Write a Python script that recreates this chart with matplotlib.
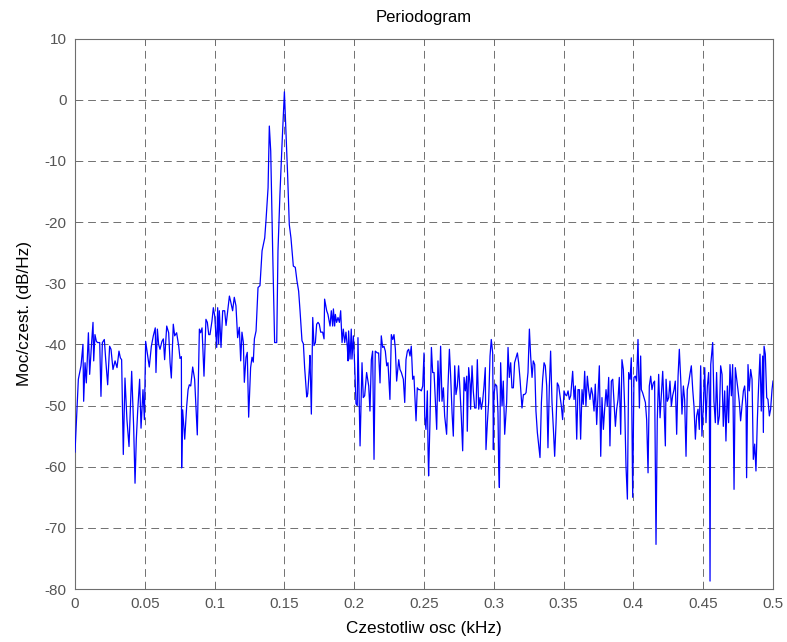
import numpy as np
import matplotlib
matplotlib.use("Agg")
import matplotlib.pyplot as plt

plt.rcParams['font.family'] = ['Liberation Sans', 'DejaVu Sans']
plt.rcParams['axes.unicode_minus'] = False

# ---- data (frequency in kHz, power in dB/Hz) ----
f1 = [0.0, 0.0024, 0.0043, 0.0057, 0.0062, 0.0072, 0.0081, 0.0096, 0.0105, 0.0119,
      0.0129, 0.0134, 0.0143, 0.0153, 0.0162, 0.0177, 0.0186, 0.0196, 0.0210, 0.0220,
      0.0234, 0.0248, 0.0258, 0.0272, 0.0287, 0.0301, 0.0315, 0.0325, 0.0334, 0.0346,
      0.0358, 0.0372, 0.0387, 0.0406, 0.0420, 0.0430, 0.0439, 0.0449, 0.0463, 0.0473,
      0.0487, 0.0497, 0.0506]
p1 = [-57.6, -45.7, -43.5, -40.0, -49.3, -43.0, -46.3, -38.1, -44.9, -39.7,
      -36.4, -42.7, -38.4, -39.5, -39.7, -39.7, -48.5, -39.7, -39.2, -42.5,
      -46.6, -40.3, -40.8, -44.1, -42.7, -43.8, -41.1, -42.2, -42.5, -58.0,
      -45.5, -52.3, -56.7, -44.4, -53.4, -62.7, -55.6, -50.9, -45.7, -53.7,
      -47.4, -52.3, -39.5]

f2 = [0.0532, 0.0547, 0.0561, 0.0575, 0.0580, 0.0590, 0.0599, 0.0609, 0.0623, 0.0633,
      0.0642, 0.0657, 0.0671, 0.0681, 0.0690, 0.0704, 0.0714, 0.0728, 0.0743, 0.0752,
      0.0762, 0.0764, 0.0771, 0.0786, 0.0800, 0.0810, 0.0819, 0.0829, 0.0843, 0.0857,
      0.0876, 0.0891, 0.0900, 0.0910, 0.0924, 0.0938, 0.0948, 0.0958, 0.0967, 0.0981,
      0.0991, 0.1001, 0.1015]
p2 = [-43.7, -40.3, -38.6, -37.3, -44.6, -37.5, -40.0, -40.8, -39.5, -39.1,
      -42.5, -37.0, -38.1, -43.0, -45.5, -36.7, -38.6, -38.1, -40.3, -42.3,
      -42.0, -60.2, -50.7, -55.5, -50.1, -47.4, -46.6, -46.8, -43.7, -45.7,
      -54.8, -37.5, -38.1, -37.3, -45.2, -35.9, -36.4, -38.4, -38.4, -36.2,
      -34.0, -35.4, -40.5]

f3 = [0.1022, 0.1029, 0.1034, 0.1046, 0.1058, 0.1072, 0.1082, 0.1094, 0.1106, 0.1117,
      0.1129, 0.1141, 0.1153, 0.1165, 0.1177, 0.1187, 0.1196, 0.1206, 0.1213, 0.1225,
      0.1234, 0.1244, 0.1258, 0.1268, 0.1277, 0.1285, 0.1297, 0.1311, 0.1325, 0.1340,
      0.1359, 0.1368, 0.1383, 0.1392, 0.1402, 0.1416, 0.1430, 0.1445, 0.1454, 0.1468,
      0.1483, 0.1500, 0.1511, 0.1523, 0.1535, 0.1547]
p3 = [-34.0, -39.9, -34.5, -40.5, -34.5, -34.5, -36.9, -34.5, -32.1, -33.2,
      -34.5, -32.3, -33.7, -38.9, -37.2, -42.7, -38.0, -39.7, -46.2, -42.1,
      -41.3, -51.9, -43.8, -42.1, -42.9, -39.1, -37.8, -30.7, -30.4, -24.7,
      -22.6, -19.8, -14.4, -4.3, -8.4, -24.7, -39.7, -39.7, -24.7, -15.5,
      -7.3, 1.3, -5.0, -12.2, -20.4, -22.6]

f4 = [0.1564, 0.1578, 0.1590, 0.1602, 0.1612, 0.1621, 0.1626, 0.1636, 0.1645, 0.1660,
      0.1667, 0.1679, 0.1683, 0.1693, 0.1703, 0.1712, 0.1722, 0.1731, 0.1741, 0.1750,
      0.1760, 0.1774, 0.1784, 0.1788, 0.1803, 0.1812, 0.1827, 0.1836, 0.1846, 0.1851,
      0.1860, 0.1865, 0.1874, 0.1884, 0.1894, 0.1903, 0.1913, 0.1922, 0.1932, 0.1941,
      0.1951, 0.1956, 0.1960, 0.1970, 0.1979, 0.1984, 0.1994, 0.2003, 0.2013, 0.2022,
      0.2027]
p4 = [-27.2, -27.4, -29.6, -31.3, -34.5, -37.8, -39.4, -39.9, -43.8, -48.6,
      -48.1, -43.8, -41.8, -51.4, -35.6, -40.2, -39.7, -36.7, -36.4, -36.7,
      -38.0, -38.0, -39.1, -32.6, -34.5, -35.1, -37.0, -34.5, -37.0, -34.2,
      -37.0, -35.1, -36.4, -35.6, -36.4, -34.5, -39.7, -37.5, -39.7, -38.0,
      -40.5, -42.7, -37.8, -42.4, -37.5, -42.4, -38.6, -43.2, -49.7, -50.0,
      -38.9]

f5 = [0.2042, 0.2056, 0.2065, 0.2075, 0.2089, 0.2104, 0.2113, 0.2123, 0.2132, 0.2142,
      0.2151, 0.2166, 0.2175, 0.2185, 0.2194, 0.2204, 0.2213, 0.2223, 0.2233, 0.2242,
      0.2256, 0.2266, 0.2276, 0.2285, 0.2295, 0.2304, 0.2319, 0.2328, 0.2338, 0.2352,
      0.2362, 0.2371, 0.2381, 0.2390, 0.2400, 0.2409, 0.2419, 0.2428, 0.2443, 0.2452,
      0.2462, 0.2471, 0.2481, 0.2491, 0.2500, 0.2505, 0.2514, 0.2524, 0.2529, 0.2533,
      0.2543]
p5 = [-56.6, -43.0, -48.7, -48.4, -44.6, -46.8, -50.9, -42.5, -41.1, -58.8,
      -41.1, -41.4, -41.4, -46.3, -38.6, -40.5, -40.3, -41.1, -43.5, -43.0,
      -49.0, -38.4, -39.2, -38.4, -40.8, -46.0, -42.5, -44.1, -44.6, -45.7,
      -49.5, -42.5, -41.1, -40.8, -41.9, -40.3, -45.7, -45.2, -52.5, -47.1,
      -47.4, -47.4, -47.6, -46.8, -41.4, -51.7, -53.9, -47.6, -57.2, -61.5,
      -52.3]

f6 = [0.2553, 0.2562, 0.2572, 0.2581, 0.2591, 0.2600, 0.2610, 0.2619, 0.2629, 0.2639,
      0.2648, 0.2662, 0.2672, 0.2682, 0.2691, 0.2701, 0.2710, 0.2720, 0.2729, 0.2739,
      0.2748, 0.2758, 0.2767, 0.2777, 0.2787, 0.2796, 0.2806, 0.2810, 0.2820, 0.2830,
      0.2834, 0.2844, 0.2853, 0.2863, 0.2873, 0.2882, 0.2892, 0.2901, 0.2911, 0.2920,
      0.2930, 0.2939, 0.2944, 0.2954, 0.2963, 0.2973, 0.2982, 0.2992, 0.2997, 0.3001,
      0.3011, 0.3021, 0.3025, 0.3030, 0.3035, 0.3040, 0.3049]
p6 = [-40.5, -44.6, -44.6, -49.0, -53.9, -42.7, -49.3, -40.3, -49.3, -47.1,
      -51.7, -54.7, -46.8, -40.8, -45.2, -51.2, -55.0, -43.5, -48.2, -46.8,
      -43.5, -47.6, -51.7, -57.4, -45.4, -47.6, -45.2, -54.2, -43.8, -46.5,
      -50.6, -43.5, -47.6, -50.4, -50.4, -42.5, -50.6, -48.7, -50.6, -49.3,
      -46.8, -43.8, -57.2, -52.8, -49.5, -41.9, -39.2, -41.4, -57.2, -48.2,
      -46.5, -46.8, -48.4, -51.2, -59.9, -63.4, -43.0]

f7 = [0.3059, 0.3068, 0.3078, 0.3092, 0.3102, 0.3111, 0.3121, 0.3130, 0.3140, 0.3149,
      0.3159, 0.3169, 0.3178, 0.3188, 0.3202, 0.3212, 0.3221, 0.3231, 0.3245, 0.3255,
      0.3264, 0.3274, 0.3283, 0.3293, 0.3302, 0.3312, 0.3321, 0.3331, 0.3341, 0.3350,
      0.3360, 0.3369, 0.3379, 0.3388, 0.3398, 0.3407, 0.3417, 0.3427, 0.3436, 0.3446,
      0.3455, 0.3465, 0.3474, 0.3484, 0.3493, 0.3503, 0.3512, 0.3522, 0.3532, 0.3541,
      0.3551]
p7 = [-50.1, -46.0, -54.7, -49.5, -40.5, -45.4, -43.0, -47.1, -47.1, -43.0,
      -42.2, -41.4, -43.0, -45.7, -50.4, -48.2, -48.2, -47.9, -44.6, -37.5,
      -41.9, -45.4, -42.7, -43.3, -50.9, -54.4, -56.3, -58.5, -49.5, -45.7,
      -43.0, -43.5, -46.8, -56.9, -46.8, -41.1, -49.5, -53.9, -58.3, -52.8,
      -46.3, -46.8, -48.4, -50.1, -52.3, -47.6, -48.2, -48.4, -47.6, -49.0,
      -48.4]

f8 = [0.3565, 0.3575, 0.3584, 0.3594, 0.3603, 0.3613, 0.3622, 0.3632, 0.3641, 0.3651,
      0.3660, 0.3670, 0.3680, 0.3689, 0.3699, 0.3708, 0.3718, 0.3727, 0.3737, 0.3746,
      0.3756, 0.3766, 0.3775, 0.3785, 0.3794, 0.3804, 0.3813, 0.3823, 0.3832, 0.3842,
      0.3852, 0.3861, 0.3871, 0.3880, 0.3890, 0.3899, 0.3909, 0.3918, 0.3928, 0.3938,
      0.3947, 0.3957, 0.3966, 0.3976, 0.3985, 0.3995, 0.4004, 0.4014, 0.4023, 0.4033,
      0.4043, 0.4052]
p8 = [-44.4, -49.0, -46.8, -55.5, -47.4, -47.4, -55.5, -47.4, -49.8, -44.4,
      -50.1, -45.2, -47.6, -49.0, -47.1, -48.2, -50.9, -46.5, -53.1, -48.7,
      -43.5, -58.3, -48.7, -53.9, -50.6, -47.4, -50.1, -45.4, -56.6, -46.0,
      -45.7, -49.5, -53.4, -50.6, -49.0, -45.4, -54.7, -42.5, -44.1, -50.6,
      -59.9, -65.3, -44.6, -45.7, -42.2, -65.0, -45.4, -45.2, -46.0, -39.2,
      -50.4, -41.9]

f9 = [0.4057, 0.4066, 0.4076, 0.4086, 0.4095, 0.4105, 0.4114, 0.4124, 0.4133, 0.4143,
      0.4152, 0.4162, 0.4171, 0.4181, 0.4191, 0.4200, 0.4210, 0.4219, 0.4229,
      0.4234, 0.4243, 0.4253, 0.4262, 0.4272, 0.4281, 0.4291, 0.4300, 0.4310, 0.4320,
      0.4329, 0.4339, 0.4348, 0.4358, 0.4367, 0.4377, 0.4386, 0.4396, 0.4405, 0.4415,
      0.4425, 0.4434, 0.4444, 0.4453, 0.4463, 0.4472, 0.4482, 0.4491, 0.4501, 0.4511,
      0.4520, 0.4530, 0.4539, 0.4544, 0.4549, 0.4554]
p9 = [-47.4, -47.9, -48.7, -49.5, -52.3, -61.0, -46.8, -45.2, -47.4, -46.3,
      -46.0, -72.7, -52.3, -44.9, -52.0, -48.4, -44.4, -49.8, -56.6,
      -45.7, -49.3, -48.7, -46.0, -50.1, -48.4, -47.4, -46.0, -54.7, -45.2,
      -40.8, -45.7, -51.4, -46.8, -49.0, -58.3, -47.4, -46.3, -44.9, -43.5,
      -47.4, -50.1, -55.5, -51.7, -50.6, -53.9, -43.5, -55.0, -50.1, -43.8,
      -52.8, -46.8, -44.6, -48.4, -78.7, -43.3]

f10 = [0.4568, 0.4577, 0.4587, 0.4596, 0.4606, 0.4616, 0.4625, 0.4635, 0.4644, 0.4654,
       0.4663, 0.4673, 0.4682, 0.4692, 0.4702, 0.4711, 0.4721, 0.4730, 0.4740, 0.4749,
       0.4759, 0.4768, 0.4778, 0.4788, 0.4797, 0.4807, 0.4811, 0.4821, 0.4830, 0.4840,
       0.4850, 0.4859, 0.4869, 0.4878, 0.4888, 0.4897, 0.4907, 0.4916, 0.4926, 0.4931,
       0.4936, 0.4945, 0.4955, 0.4964, 0.4974, 0.4983, 0.4993, 0.5000]
p10 = [-39.7, -49.3, -52.8, -44.6, -53.1, -51.7, -43.5, -44.9, -53.4, -47.6,
       -55.8, -46.8, -52.8, -43.3, -48.4, -43.3, -63.7, -43.8, -45.7, -47.4,
       -49.5, -52.5, -50.1, -47.6, -46.8, -50.1, -61.8, -43.3, -47.6, -44.1,
       -45.7, -58.8, -56.3, -60.7, -52.3, -46.8, -41.6, -50.9, -41.9, -54.4,
       -40.3, -41.6, -48.7, -49.0, -51.7, -50.6, -47.4, -46.0]

x_ticks = [0, 0.05, 0.1, 0.15, 0.2, 0.25, 0.3, 0.35, 0.4, 0.45, 0.5]
x_tick_labels = ["0", "0.05", "0.1", "0.15", "0.2", "0.25", "0.3", "0.35", "0.4", "0.45", "0.5"]
y_ticks = [-80, -70, -60, -50, -40, -30, -20, -10, 0, 10]

title_text = "Periodogram"
x_label = "Czestotliw osc (kHz)"
y_label = "Moc/czest. (dB/Hz)"

freq_parts = [f1, f2, f3, f4, f5, f6, f7, f8, f9, f10]
pow_parts = [p1, p2, p3, p4, p5, p6, p7, p8, p9, p10]
freq = []
power = []
for fs, ps in zip(freq_parts, pow_parts):
    n = min(len(fs), len(ps))
    freq.extend(fs[:n])
    power.extend(ps[:n])
freq = np.array(freq)
power = np.array(power)

# ---- figure ----
fig = plt.figure(figsize=(7.87, 6.42), dpi=100)
ax = fig.add_axes([0.0953, 0.0825, 0.8869, 0.8574])

ax.plot(freq, power, color='#0000ff', lw=0.9, zorder=3)

ax.set_xlim(0, 0.5)
ax.set_ylim(-80, 10)
ax.set_xticks(x_ticks)
ax.set_xticklabels(x_tick_labels)
ax.set_yticks(y_ticks)

axis_col = '#6e6e6e'
label_col = '#555555'
for s in ax.spines.values():
    s.set_color(axis_col)
    s.set_linewidth(0.8)
ax.tick_params(direction='in', length=4, width=0.7, color=axis_col,
               labelcolor=label_col, labelsize=11, top=True, right=True, pad=6)

ax.grid(True, color='#707070', linestyle=(0, (8, 5)), linewidth=0.7)
ax.set_axisbelow(True)

ax.set_title(title_text, fontsize=12, color='black', pad=12)
ax.set_xlabel(x_label, fontsize=12.3, color='black', labelpad=7)
ax.set_ylabel(y_label, fontsize=12.3, color='black', labelpad=9)

fig.savefig("out.png", dpi=100, facecolor='white')
